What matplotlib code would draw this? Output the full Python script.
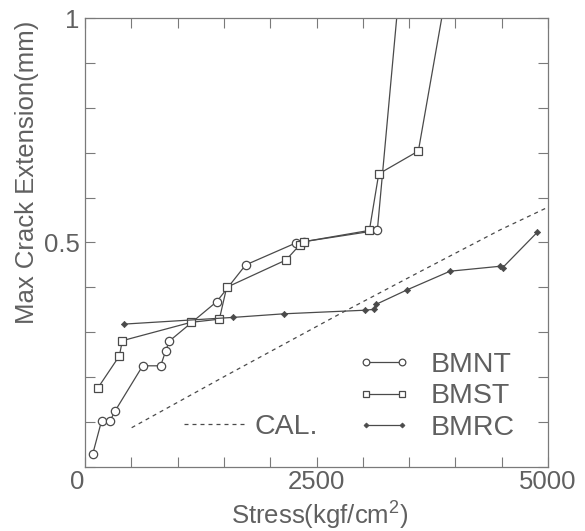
import matplotlib
matplotlib.use("Agg")
import matplotlib.pyplot as plt
from matplotlib.transforms import ScaledTranslation

plt.rcParams['font.family'] = ['Liberation Sans', 'DejaVu Sans']
plt.rcParams['mathtext.default'] = 'regular'

# ---- data ----
bmnt_x = [83, 180, 270, 324, 623, 817, 871, 910, 1422, 1735, 2278, 2368, 3157, 3454]
bmnt_y = [0.028, 0.103, 0.102, 0.124, 0.225, 0.225, 0.258, 0.280, 0.368, 0.450, 0.499, 0.502, 0.527, 1.2]

bmst_x = [137, 371, 403, 1145, 1451, 1530, 2171, 2321, 2368, 3071, 3172, 3600, 4022]
bmst_y = [0.175, 0.247, 0.281, 0.322, 0.329, 0.400, 0.461, 0.495, 0.502, 0.527, 0.653, 0.704, 1.2]

bmrc_x = [421, 1602, 2149, 3024, 3124, 3143, 3474, 3942, 4482, 4511, 4885]
bmrc_y = [0.318, 0.333, 0.341, 0.349, 0.351, 0.362, 0.394, 0.436, 0.447, 0.444, 0.523]

cal_x = [504, 1530, 2772, 3618, 4482, 4982]
cal_y = [0.087, 0.204, 0.343, 0.435, 0.528, 0.577]

x_ticks = [0, 2500, 5000]
x_tick_labels = ['0', '2500', '5000']
y_ticks = [0, 0.5, 1]
y_tick_labels = ['', '0.5', '1']

# ---- style ----
ink = '#4a4a4a'
txt = '#606060'
axc = '#7a7a7a'
fs = 18.5
lfs = 20.5

fig = plt.figure(figsize=(5.85, 5.31), dpi=100)
ax = fig.add_axes([85/585, (531-466.7)/531, 463/585, 448.4/531])

ax.plot(bmnt_x, bmnt_y, color=ink, lw=0.9, marker='o', ms=6, mfc='white', mec=ink, mew=0.9, label='BMNT')
ax.plot(bmst_x, bmst_y, color=ink, lw=0.9, marker='s', ms=6, mfc='white', mec=ink, mew=0.9, label='BMST')
ax.plot(bmrc_x, bmrc_y, color=ink, lw=0.9, marker='D', ms=3.2, mfc=ink, mec=ink, mew=0.5, label='BMRC')
ax.plot(cal_x, cal_y, color=ink, lw=0.9, linestyle=(0, (3.2, 3.2)), label='CAL.')

ax.set_xlim(0, 5000)
ax.set_ylim(0, 1)

ax.set_xticks(x_ticks)
ax.set_xticklabels(x_tick_labels)
ax.set_yticks(y_ticks)
ax.set_yticklabels(y_tick_labels)
ax.set_xticks([i * 500 for i in range(11)], minor=True)
ax.set_yticks([i * 0.1 for i in range(11)], minor=True)

for which in ('major', 'minor'):
    ax.tick_params(axis='both', which=which, direction='in', length=7, width=0.8,
                   color=axc, top=True, right=True)
ax.tick_params(axis='both', which='major', labelsize=fs, labelcolor=txt)
ax.tick_params(axis='x', which='major', pad=2.5)
ax.tick_params(axis='y', which='major', pad=4)

for sp in ax.spines.values():
    sp.set_color(axc)
    sp.set_linewidth(0.9)

# shift the corner "0" slightly left like the reference
lbl0 = ax.get_xticklabels()[0]
lbl0.set_transform(lbl0.get_transform() + ScaledTranslation(-8/100, 0, fig.dpi_scale_trans))

fig.text(27/585, 1 - 172/531, 'Max Crack Extension(mm)', rotation=90, ha='center', va='center',
         fontsize=fs, color=txt)
fig.text(320/585, 1 - 516/531, r'Stress(kgf/cm$^2$)', ha='center', va='center',
         fontsize=fs, color=txt)

# legends
h = ax.get_lines()
leg1 = ax.legend(handles=h[:3], loc='upper left', bbox_to_anchor=(0.589, 0.255),
                 frameon=False, fontsize=lfs, numpoints=2, handlelength=1.85,
                 handletextpad=0.7, labelspacing=0.18, borderpad=0, borderaxespad=0,
                 labelcolor=txt)
for lh in leg1.legend_handles:
    lh.set_markersize(lh.get_markersize() * 0.8)
ax.add_artist(leg1)
leg2 = ax.legend(handles=[h[3]], loc='upper left', bbox_to_anchor=(0.213, 0.1175),
                 frameon=False, fontsize=lfs, handlelength=2.2,
                 handletextpad=0.3, borderpad=0, borderaxespad=0, labelcolor=txt)

fig.savefig('out.png', dpi=100)
